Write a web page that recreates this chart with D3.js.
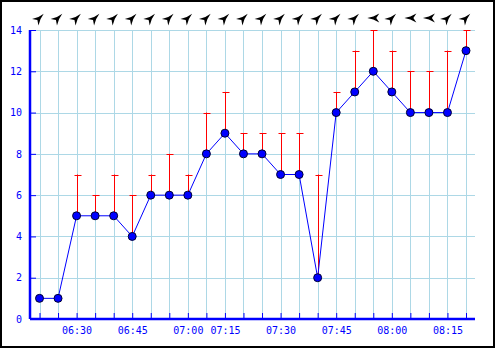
<!DOCTYPE html>
<html>
<head>
<meta charset="utf-8">
<script src="https://cdn.jsdelivr.net/npm/d3@7"></script>
<style>
    body { margin: 0; background: #fff; }
    svg text { font-family: "DejaVu Sans Mono", monospace; font-size: 10px; fill: #0000ff; }
</style>
</head>
<body>
<svg id="chart" width="495" height="348"></svg>
<script>
// Observation times (one every 5 minutes, 07:10 is missing)
var times = ["06:20", "06:25", "06:30", "06:35", "06:40", "06:45", "06:50", "06:55",
             "07:00", "07:05", "07:15", "07:20", "07:25", "07:30", "07:35", "07:40",
             "07:45", "07:50", "07:55", "08:00", "08:05", "08:10", "08:15", "08:20"];
// Mean wind
var speed = [1, 1, 5, 5, 5, 4, 6, 6, 6, 8, 9, 8, 8, 7, 7, 2, 10, 11, 12, 11, 10, 10, 10, 13];
// Gusts
var gust = [1, 1, 7, 6, 7, 6, 7, 8, 7, 10, 11, 9, 9, 9, 9, 7, 11, 13, 14, 13, 12, 12, 13, 14];
// Direction the wind comes from (degrees)
var windFrom = [225, 225, 225, 225, 225, 225, 225, 225, 225, 225, 225, 225,
                225, 225, 225, 225, 225, 225, 90, 225, 90, 90, 225, 225];
// Tick labels shown under the x axis
var timeLabels = ["06:30", "06:45", "07:00", "07:15", "07:30", "07:45", "08:00", "08:15"];
var yTicks = [0, 2, 4, 6, 8, 10, 12, 14];

var svg = d3.select("#chart");

// plot box
var plotLeft = 30, plotRight = 475, plotTop = 30, plotBottom = 319;

var x = d3.scalePoint().domain(times).range([39.5, 466]);
var y = d3.scaleLinear().domain([0, 14]).range([plotBottom, plotTop]);

// Outer frame
svg.append("rect")
    .attr("x", 1).attr("y", 1).attr("width", 493).attr("height", 346)
    .attr("fill", "#fff").attr("stroke", "#000").attr("stroke-width", 2);

// Grid
var grid = svg.append("g").attr("stroke", "#add8e6").attr("stroke-width", 1);
grid.selectAll(".hg").data(yTicks.slice(1)).enter().append("line")
    .attr("x1", plotLeft).attr("x2", plotRight)
    .attr("y1", function (d) { return Math.round(y(d)) + 0.5; })
    .attr("y2", function (d) { return Math.round(y(d)) + 0.5; });
grid.selectAll(".vg").data(times).enter().append("line")
    .attr("y1", plotTop).attr("y2", plotBottom)
    .attr("x1", function (d) { return Math.round(x(d)) + 0.5; })
    .attr("x2", function (d) { return Math.round(x(d)) + 0.5; });

// Axes
var yAxis = d3.axisLeft(y).tickValues(yTicks).tickSize(-6).tickSizeOuter(0).tickPadding(8);
var gy = svg.append("g").attr("transform", "translate(" + plotLeft + ",0)").call(yAxis);

var xAxis = d3.axisBottom(x).tickSize(-6).tickSizeOuter(0).tickPadding(8)
    .tickFormat(function (d) { return timeLabels.indexOf(d) >= 0 ? d : ""; });
var gx = svg.append("g").attr("transform", "translate(0," + plotBottom + ")").call(xAxis);
gx.select(".domain").attr("d", "M" + plotLeft + ",0H" + plotRight);
gy.select(".domain").attr("d", "M0," + plotBottom + "V" + plotTop);

[gx, gy].forEach(function (g) {
    g.select(".domain").attr("stroke", "#0000ff").attr("stroke-width", 2.5);
    g.selectAll(".tick line").attr("stroke", "#0000ff");
    g.selectAll(".tick text").attr("fill", "#0000ff")
        .style("font-family", "DejaVu Sans Mono, monospace").style("font-size", "10px");
});

// Gust whiskers
var w = svg.append("g").attr("stroke", "#ff0000").attr("stroke-width", 1);
times.forEach(function (t, i) {
    if (gust[i] <= speed[i]) return;
    var cx = Math.round(x(t)) + 0.5;
    w.append("line").attr("x1", cx).attr("x2", cx).attr("y1", y(speed[i])).attr("y2", y(gust[i]));
    w.append("line").attr("x1", cx - 3).attr("x2", cx + 4)
        .attr("y1", Math.round(y(gust[i])) + 0.5).attr("y2", Math.round(y(gust[i])) + 0.5);
});

// Mean wind line and points
var line = d3.line()
    .x(function (d, i) { return x(times[i]); })
    .y(function (d) { return y(d); });
svg.append("path").datum(speed)
    .attr("d", line).attr("fill", "none").attr("stroke", "#0000ff").attr("stroke-width", 1);

svg.selectAll(".pt").data(speed).enter().append("circle")
    .attr("cx", function (d, i) { return x(times[i]); })
    .attr("cy", function (d) { return y(d); })
    .attr("r", 4)
    .attr("fill", "#0000ff").attr("stroke", "#000033").attr("stroke-width", 1);

// Wind direction arrows along the top
var arrow = "M6,0L0,-1.5L-6,-4.5L-3,0L-6,4.5L0,1.5Z";
svg.selectAll(".dir").data(windFrom).enter().append("path")
    .attr("d", arrow)
    .attr("fill", "#000")
    .attr("transform", function (d, i) {
        var to = (d + 180) % 360;
        return "translate(" + x(times[i]) + ",18) rotate(" + (to - 90) + ")";
    });
</script>
</body>
</html>
